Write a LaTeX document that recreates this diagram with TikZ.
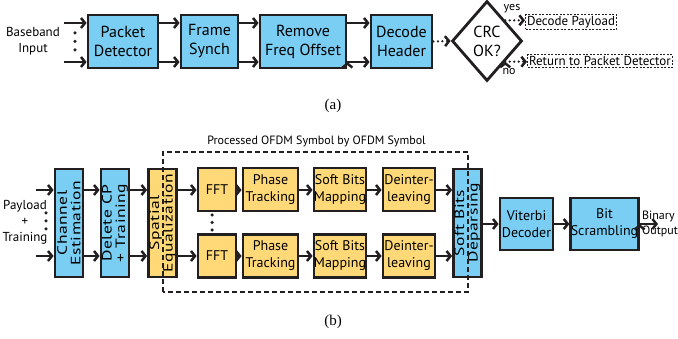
\documentclass[tikz,border=0pt]{standalone}
\usepackage{fontspec}
\setsansfont{PT Sans}
\newfontfamily\capfont{Liberation Serif}
\newfontfamily\widesans[FakeStretch=1.3, LetterSpace=4]{PT Sans}
\usetikzlibrary{shapes.geometric, arrows.meta, calc}
\definecolor{blockblue}{RGB}{122,206,244}
\definecolor{blockyellow}{RGB}{255,217,120}
\definecolor{edgegray}{RGB}{35,31,32}
\tikzset{
	block/.style={draw=edgegray, line width=2.8pt, fill=blockblue, align=center,
		inner sep=0pt, font=\sffamily\fontsize{14}{17}\selectfont},
	yblock/.style={block, fill=blockyellow},
	big/.style={font=\sffamily\fontsize{16}{19}\selectfont},
	sz/.style 2 args={minimum width=#1, minimum height=#2},
	tall/.style={sz={108pt}{28pt}, rotate=90, font=\widesans\fontsize{13.5}{13.5}\selectfont},
	link/.style={line width=2.5pt, draw=edgegray,
		-{Straight Barb[length=4pt,width=10pt]}},
	dotlink/.style={link, line cap=round, dash pattern=on 0pt off 4.5pt},
	outbox/.style={draw=edgegray, line width=1pt, dash pattern=on 2pt off 1.5pt,
		inner sep=1.5pt, font=\sffamily\fontsize{13}{15}\selectfont},
	lbl/.style={align=center, font=\sffamily\fontsize{13}{16}\selectfont},
	vdot/.style={circle, fill=edgegray, inner sep=0pt, minimum size=3.5pt},
}

\begin{document}
\begin{tikzpicture}[x=1pt, y=-1pt]
	\useasboundingbox (0,0) rectangle (678,339);

	% (a) packet header chain
	\coordinate (r1) at (0,23);
	\coordinate (r2) at (0,62);
	\node[lbl] (bb) at (33,41) {Baseband\\Input};
	\coordinate (in1) at (64,23);
	\coordinate (in2) at (64,62);
	\foreach \y [count=\i] in {33,41.5,50} \node[vdot] (da\i) at (75,\y) {};
	\node[block, big, sz={70pt}{53pt}] (pd) at (123,41.5) {Packet\\Detector};
	\node[block, big, sz={57pt}{53pt}] (fs) at (209.5,41.5) {Frame\\Synch};
	\node[block, big, sz={86pt}{53pt}] (rf) at (303,41.5) {Remove\\Freq Offset};
	\node[block, big, sz={61pt}{53pt}] (dh) at (401.5,41.5) {Decode\\Header};
	\node[diamond, draw=edgegray, line width=2.8pt, sz={70pt}{80pt}, inner sep=0pt,
		align=center, big] (crc) at (487,41) {CRC\\OK?};
	\node[outbox, anchor=west] (dp) at (525,22) {Decode Payload};
	\node[outbox, anchor=west] (rp) at (527,61) {Return to Packet Detector};
	\node[lbl, font=\sffamily\fontsize{12}{14}\selectfont] (yes) at (512,9) {yes};
	\node[lbl, font=\sffamily\fontsize{12}{14}\selectfont] (no) at (509,72) {no};
	\draw[link]
	(in1) edge (pd.west |- r1)
	(in2) edge (pd.west |- r2)
	(pd.east |- r1) edge (fs.west |- r1)
	(pd.east |- r2) edge (fs.west |- r2)
	(fs.east |- r1) edge (rf.west |- r1)
	(fs.east |- r2) edge (rf.west |- r2)
	(rf.east |- r1) edge (dh.west |- r1)
	(rf.east |- r2) edge (dh.west |- r2)
	;
	\draw[dotlink]
	(dh.east) edge (crc.west)
	(crc.north east) edge (dp.west |- crc.north east)
	(crc.south east) edge (rp.west |- crc.south east)
	;
	\node[font=\capfont\fontsize{15}{18}\selectfont] (capa) at (333,106) {(a)};

	% (b) OFDM receiver chain
	\coordinate (t1) at (0,190);
	\coordinate (t2) at (0,256);
	\node[lbl] (pl) at (25,222) {Payload\\+\\Training};
	\coordinate (in3) at (36,190);
	\coordinate (in4) at (36,256);
	\foreach \y [count=\i] in {213,221,229} \node[vdot] (db\i) at (46,\y) {};
	\node[block, tall] (ce) at (69,223) {Channel\\Estimation};
	\node[block, tall] (dc) at (115,223) {Delete CP\\+ Training};
	\node[yblock, tall] (se) at (162.5,223) {Spatial\\Equalization};
	\node[yblock, sz={38pt}{43pt}] (fft1) at (217,189.5) {FFT};
	\node[yblock, sz={38pt}{43pt}] (fft2) at (217,256) {FFT};
	\foreach \y [count=\i] in {215,222.5,230} \node[vdot] (dc\i) at (212,\y) {};
	\node[yblock, sz={55pt}{43pt}] (pt1) at (270.5,189.5) {Phase\\Tracking};
	\node[yblock, sz={55pt}{43pt}] (pt2) at (270.5,256) {Phase\\Tracking};
	\node[yblock, sz={50pt}{43pt}] (sb1) at (340,189.5) {Soft Bits\\Mapping};
	\node[yblock, sz={50pt}{43pt}] (sb2) at (340,256) {Soft Bits\\Mapping};
	\node[yblock, sz={52pt}{43pt}] (di1) at (409,189.5) {Deinter-\\leaving};
	\node[yblock, sz={52pt}{43pt}] (di2) at (409,256) {Deinter-\\leaving};
	\node[block, tall] (sd) at (467.5,223) {Soft Bits\\Deparsing};
	\node[block, sz={53pt}{52pt}] (vd) at (526.5,224) {Viterbi\\Decoder};
	\node[block, sz={67pt}{52pt}] (bs) at (604.5,224) {Bit\\Scrambling};
	\coordinate (out) at (658,224);
	\node[lbl, anchor=west, align=left, inner sep=1pt,
		font=\sffamily\fontsize{12}{15}\selectfont] (bo) at (641,224) {Binary\\Output};
	\draw[link]
	(in3) edge (ce.north |- t1)
	(in4) edge (ce.north |- t2)
	(ce.south |- t1) edge (dc.north |- t1)
	(ce.south |- t2) edge (dc.north |- t2)
	(dc.south |- t1) edge (se.north |- t1)
	(dc.south |- t2) edge (se.north |- t2)
	(se.south |- t1) edge (fft1.west |- t1)
	(se.south |- t2) edge (fft2.west |- t2)
	(fft1.east |- t1) edge (pt1.west |- t1)
	(fft2.east |- t2) edge (pt2.west |- t2)
	(pt1.east |- t1) edge (sb1.west |- t1)
	(pt2.east |- t2) edge (sb2.west |- t2)
	(sb1.east |- t1) edge (di1.west |- t1)
	(sb2.east |- t2) edge (di2.west |- t2)
	(di1.east |- t1) edge (sd.north |- t1)
	(di2.east |- t2) edge (sd.north |- t2)
	(sd.south |- vd.west) edge (vd.west)
	(vd.east) edge (bs.west)
	(bs.east) edge (out)
	;
	\draw[edgegray, line width=1.2pt, dash pattern=on 5pt off 3pt]
	(163,292) rectangle (468,152);
	\node[lbl, font=\sffamily\fontsize{12}{15}\selectfont] (proc) at (316.5,141) {Processed OFDM Symbol by OFDM Symbol};
	\node[font=\capfont\fontsize{15}{18}\selectfont] (capb) at (333,322) {(b)};
\end{tikzpicture}
\end{document}
